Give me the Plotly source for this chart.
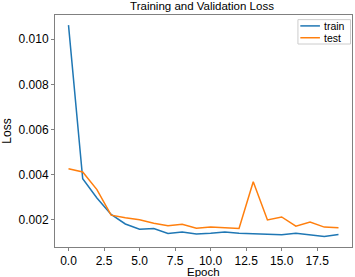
import plotly.graph_objects as go

epochs = list(range(20))
train_loss = [0.01062, 0.00382, 0.00297, 0.00224, 0.00182, 0.00159, 0.00162, 0.00140, 0.00146, 0.00138,
              0.00141, 0.00146, 0.00141, 0.00138, 0.00138, 0.00134, 0.00141, 0.00134, 0.00126, 0.00135]
test_loss = [0.00426, 0.00412, 0.00334, 0.00221, 0.00209, 0.00201, 0.00185, 0.00174, 0.00181, 0.00163,
             0.00168, 0.00165, 0.00162, 0.00369, 0.00200, 0.00213, 0.00172, 0.00191, 0.00168, 0.00165]
series_names = ["train", "test"]
series_colors = ["#1f77b4", "#ff7f0e"]
x_ticks = [0.0, 2.5, 5.0, 7.5, 10.0, 12.5, 15.0, 17.5]
y_ticks = [0.002, 0.004, 0.006, 0.008, 0.010]

font_family = "Liberation Sans, Arial, sans-serif"

fig = go.Figure()
for name, ys, col in zip(series_names, [train_loss, test_loss], series_colors):
    fig.add_trace(go.Scatter(x=epochs, y=ys, mode="lines", name=name,
                             line=dict(color=col, width=1.5), showlegend=False))

axis_common = dict(showgrid=False, zeroline=False, showline=True, mirror=True,
                   linecolor="#808080", linewidth=1, ticks="outside", ticklen=3,
                   tickcolor="#808080", automargin=False,
                   tickfont=dict(size=12, color="#000000", family=font_family))

# compact, matplotlib-style legend drawn in the axes' paper coordinates
lx0, lx1, ly0, ly1 = 0.818, 0.995, 0.875, 0.980
shapes = [dict(type="rect", xref="paper", yref="paper", x0=lx0, x1=lx1, y0=ly0, y1=ly1,
               line=dict(color="#cccccc", width=1), fillcolor="rgba(255,255,255,0.8)", layer="above")]
annotations = []
entry_y = [0.953, 0.902]
for name, col, yy in zip(series_names, series_colors, entry_y):
    shapes.append(dict(type="line", xref="paper", yref="paper", x0=0.826, x1=0.892, y0=yy, y1=yy,
                       line=dict(color=col, width=1.5), layer="above"))
    annotations.append(dict(xref="paper", yref="paper", x=0.902, y=yy, text=name, showarrow=False,
                            xanchor="left", yanchor="middle", borderpad=0,
                            font=dict(size=10.5, color="#000000")))
# x-axis title
annotations.append(dict(xref="paper", yref="paper", x=0.5, y=-0.107, text="Epoch", showarrow=False,
                        xanchor="center", yanchor="middle", borderpad=0,
                        font=dict(size=11.5, color="#000000")))

fig.update_layout(
    width=355, height=277,
    margin=dict(l=55, r=3, t=15, b=30),
    paper_bgcolor="white", plot_bgcolor="white",
    font=dict(family=font_family, color="#000000"),
    title=dict(text="Training and Validation Loss", x=0.569, xanchor="center",
               y=0.993, yanchor="top", font=dict(size=11.5)),
    xaxis=dict(range=[-0.95, 19.95], tickvals=x_ticks,
               ticktext=[f"{v:.1f}" for v in x_ticks], **axis_common),
    yaxis=dict(range=[0.00080, 0.01107], tickvals=y_ticks,
               ticktext=[f"{v:.3f}" for v in y_ticks],
               title=dict(text="Loss", font=dict(size=12), standoff=4), **axis_common),
    shapes=shapes,
    annotations=annotations,
    showlegend=False,
)

fig.write_html("out.html", config={"displayModeBar": False},
               post_script="document.body.style.margin='0';")
